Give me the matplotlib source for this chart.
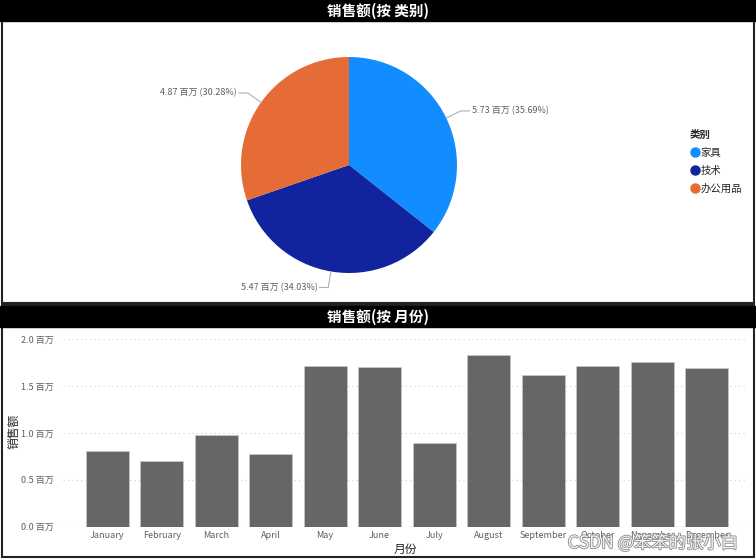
import matplotlib
matplotlib.use('Agg')
import matplotlib.pyplot as plt
from matplotlib.patches import Rectangle
from matplotlib.lines import Line2D
import matplotlib.patheffects as pe
import numpy as np

plt.rcParams['font.family'] = ['Noto Sans CJK SC', 'DejaVu Sans']

# data
categories = ['家具', '技术', '办公用品']
cat_sales = [5.73, 5.47, 4.87]          # 百万
cat_pct = [35.69, 34.03, 30.28]
cat_colors = ['#118DFF', '#12239E', '#E66C37']

months = ['January', 'February', 'March', 'April', 'May', 'June', 'July',
          'August', 'September', 'October', 'November', 'December']
month_sales = [0.81, 0.70, 0.975, 0.78, 1.71, 1.70, 0.89, 1.83, 1.62, 1.72, 1.76, 1.69]
yticks = [0.0, 0.5, 1.0, 1.5, 2.0]

W, H = 756, 560
fig = plt.figure(figsize=(W / 100, H / 100), dpi=100)
fig.patch.set_facecolor('white')

def px_rect(x0, y0, x1, y1):
    # pixel box (top-left origin) -> figure fraction rect
    return [x0 / W, 1 - y1 / H, (x1 - x0) / W, (y1 - y0) / H]

# background frame / title bars
bg = fig.add_axes([0, 0, 1, 1], zorder=-10)
bg.set_xlim(0, W)
bg.set_ylim(H, 0)
bg.axis('off')
bg.add_patch(Rectangle((1.5, 0), W - 3.5, 303, fill=False, ec='#222222', lw=1.5))
bg.add_patch(Rectangle((1.5, 305), W - 3.5, 252, fill=False, ec='#222222', lw=1.5))
bg.add_patch(Rectangle((0, 0), W, 21, color='black'))
bg.add_patch(Rectangle((0, 305.5), W, 21.5, color='black'))
bg.text(W / 2, 11, '销售额(按 类别)', color='white', fontsize=10.5, fontweight='bold',
        ha='center', va='center')
bg.text(W / 2, 316.5, '销售额(按 月份)', color='white', fontsize=10.5, fontweight='bold',
        ha='center', va='center')

# pie
cx, cy, R = 349, 165, 108
half = 130
axp = fig.add_axes(px_rect(cx - half, cy - half, cx + half, cy + half))
wedges, _ = axp.pie(cat_sales, colors=cat_colors, startangle=90, counterclock=False,
                    radius=1, wedgeprops=dict(linewidth=0))
lim = half / R
axp.set_xlim(-lim, lim)
axp.set_ylim(-lim, lim)
axp.set_aspect('equal')
axp.axis('off')

for w, v, p in zip(wedges, cat_sales, cat_pct):
    ang = np.deg2rad((w.theta1 + w.theta2) / 2)
    x0, y0 = np.cos(ang), np.sin(ang)
    x1, y1 = 1.15 * x0, 1.15 * y0
    side = 1 if x0 > 0 else -1
    x2 = x1 + side * 0.08
    axp.plot([x0, x1, x2], [y0, y1, y1], color='#b0b0b0', lw=0.8, clip_on=False)
    axp.text(x2 + side * 0.02, y1, f'{v:.2f} 百万 ({p:.2f}%)', fontsize=6.5,
             color='#605E5C', ha='left' if side > 0 else 'right', va='center')

handles = [Line2D([], [], marker='o', ls='', color=c, markersize=6.5) for c in cat_colors]
leg = fig.legend(handles, categories, title='类别', loc='upper left',
                 bbox_to_anchor=(686 / W, 1 - 126 / H), frameon=False,
                 fontsize=7.5, title_fontsize=7.5, handletextpad=0.0,
                 handlelength=1.0, labelspacing=0.75, borderaxespad=0)
leg._legend_box.align = 'left'
leg.get_title().set_fontweight('bold')
leg.get_title().set_color('#252423')
for t in leg.get_texts():
    t.set_color('#252423')

# bars
axb = fig.add_axes(px_rect(63, 336, 747, 526.7))
x = np.arange(len(months))
axb.bar(x, month_sales, width=0.785, color='#666666', edgecolor='#c8c8c8', lw=0.5, zorder=3)
axb.set_xlim(-0.81, 11.74)
axb.set_ylim(0, 2.0 + 3.3 / 93.3)
axb.set_yticks(yticks)
axb.set_yticklabels([f'{t:.1f} 百万' for t in yticks])
axb.set_xticks(x)
axb.set_xticklabels(months)
axb.tick_params(axis='both', length=0, labelsize=6.5, labelcolor='#605E5C')
axb.tick_params(axis='y', pad=7)
axb.tick_params(axis='x', pad=3)
axb.grid(axis='y', color='#d0d0d0', lw=0.8, ls=(0, (1, 3)), zorder=0)
for s in axb.spines.values():
    s.set_visible(False)
axb.set_xlabel('月份', fontsize=8.5, color='#252423', labelpad=2)
axb.set_ylabel('销售额', fontsize=8.5, color='#252423', labelpad=0)

# watermark
fig.text(738 / W, 1 - 543 / H, 'CSDN @笨笨的张小白', fontsize=12.5, color='#f4f4f4',
         ha='right', va='center', zorder=10,
         path_effects=[pe.withStroke(linewidth=1.2, foreground='#8a8a8a')])

fig.savefig('out.png', dpi=100)
